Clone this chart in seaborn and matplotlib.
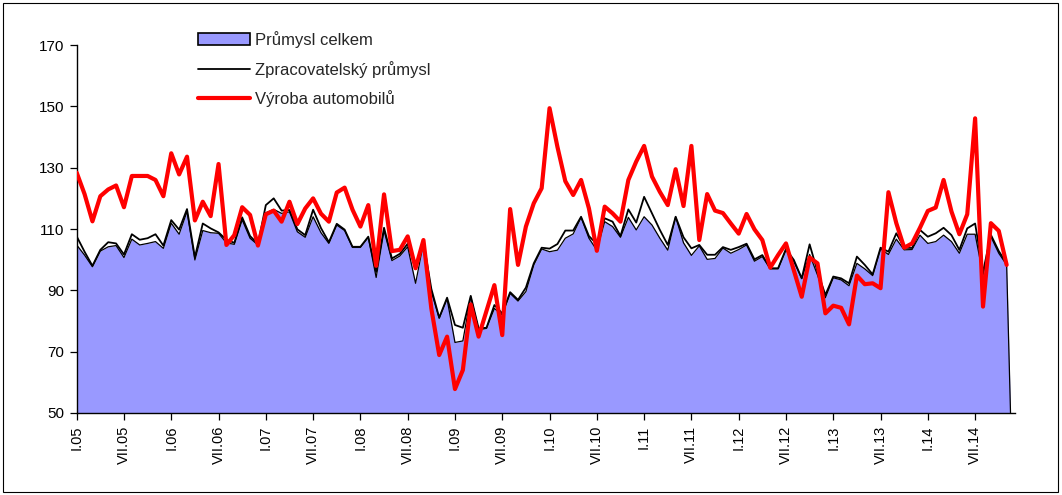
import matplotlib
matplotlib.use('Agg')
import matplotlib.pyplot as plt
import seaborn as sns
import pandas as pd
import numpy as np
from matplotlib.patches import Patch, Rectangle
from matplotlib.lines import Line2D

# monthly index, I.05 .. XII.14 (last month blank -> 0 in the area series)
prumysl_celkem = [
    104.8, 101.5, 97.7, 102.8, 104.2, 104.6, 100.7, 106.7, 104.8, 105.3, 105.9, 103.7,
    111.9, 108.3, 115.7, 99.9, 109.5, 108.8, 108.6, 105.5, 105.0, 113.0, 107.0, 104.8,
    115.3, 116.4, 115.1, 115.6, 109.1, 107.3, 114.0, 108.8, 105.3, 111.3, 109.5, 104.0,
    104.0, 107.3, 94.2, 109.5, 99.7, 101.2, 104.2, 92.3, 105.3, 89.6, 80.9, 87.2,
    73.0, 73.5, 87.9, 77.1, 77.6, 84.1, 82.0, 89.0, 86.5, 89.6, 98.3, 103.5,
    102.6, 103.1, 107.0, 108.4, 113.8, 107.0, 103.1, 112.4, 110.8, 107.3, 113.8, 109.7,
    114.0, 111.3, 107.0, 103.1, 114.0, 105.5, 101.4, 104.5, 100.1, 100.4, 103.8, 102.1,
    103.3, 104.8, 99.5, 101.0, 97.0, 97.0, 103.2, 99.4, 93.9, 101.7, 95.0, 87.6,
    94.1, 93.4, 91.5, 98.8, 97.0, 94.8, 103.5, 101.7, 106.7, 103.2, 103.3, 108.0,
    105.3, 105.9, 108.0, 105.9, 102.1, 108.3, 108.3, 95.0, 107.5, 102.1, 98.3, 0.0,
]

zpracovatelsky = [
    107.6, 102.6, 98.0, 103.2, 105.7, 105.3, 101.7, 108.3, 106.5, 107.0, 108.3, 104.6,
    112.9, 109.8, 116.5, 100.8, 111.8, 110.2, 108.9, 106.5, 105.5, 113.8, 107.7, 105.1,
    117.8, 120.0, 116.0, 116.2, 109.9, 108.0, 116.3, 110.3, 105.7, 111.7, 109.8, 104.2,
    104.2, 107.5, 96.0, 110.4, 100.4, 101.9, 105.2, 97.0, 105.9, 90.5, 81.1, 87.6,
    78.7, 77.8, 88.2, 77.6, 77.8, 85.2, 82.5, 89.4, 86.9, 90.9, 98.8, 103.9,
    103.6, 105.1, 109.5, 109.5, 114.0, 107.7, 105.1, 113.5, 112.4, 107.7, 116.4, 112.1,
    120.5, 115.1, 109.7, 104.8, 114.0, 107.3, 103.7, 104.8, 101.6, 101.6, 104.1, 103.2,
    104.1, 105.2, 100.1, 101.5, 97.2, 97.2, 103.5, 99.9, 93.9, 105.0, 96.1, 88.5,
    94.5, 93.9, 92.3, 101.0, 98.3, 95.2, 103.9, 102.6, 108.6, 103.9, 103.8, 109.7,
    107.5, 108.6, 110.4, 108.0, 103.2, 110.2, 111.8, 96.0, 108.1, 102.8, 98.8,
]

automobily = [
    128.4, 121.4, 112.5, 120.7, 122.9, 124.2, 117.1, 127.3, 127.3, 127.3, 126.0, 120.7,
    134.7, 127.8, 133.6, 112.8, 118.9, 114.2, 131.2, 104.8, 108.0, 117.1, 114.6, 104.6,
    114.8, 116.0, 112.4, 118.9, 111.6, 116.7, 120.0, 115.0, 112.4, 121.9, 123.5, 116.3,
    110.8, 117.8, 98.0, 121.3, 102.8, 103.2, 107.6, 97.2, 106.4, 84.1, 68.9, 74.9,
    57.8, 64.0, 85.4, 74.9, 83.3, 91.7, 75.4, 116.5, 98.3, 110.8, 118.4, 123.3,
    149.4, 136.8, 125.6, 121.1, 126.0, 116.7, 102.9, 117.3, 115.1, 112.4, 126.0, 132.0,
    137.1, 127.1, 122.1, 117.8, 129.5, 117.5, 137.1, 106.4, 121.4, 116.0, 115.2, 111.8,
    108.5, 114.9, 109.9, 106.4, 97.4, 101.5, 105.3, 96.5, 87.9, 100.7, 98.8, 82.5,
    85.0, 84.3, 78.9, 94.8, 92.0, 92.3, 90.7, 122.0, 111.9, 103.9, 105.3, 110.4,
    115.9, 117.0, 126.0, 115.7, 108.3, 114.8, 146.1, 84.7, 111.9, 109.4, 98.3,
]

tick_labels = ['I.05', 'VII.05', 'I.06', 'VII.06', 'I.07', 'VII.07', 'I.08', 'VII.08',
               'I.09', 'VII.09', 'I.10', 'VII.10', 'I.11', 'VII.11', 'I.12', 'VII.12',
               'I.13', 'VII.13', 'I.14', 'VII.14']
y_ticks = [50, 70, 90, 110, 130, 150, 170]
legend_labels = ['Průmysl celkem', 'Zpracovatelský průmysl', 'Výroba automobilů']

sns.set_style('white')
plt.rcParams['font.family'] = ['Liberation Sans', 'DejaVu Sans']

df_area = pd.DataFrame({'mesic': np.arange(len(prumysl_celkem)), 'hodnota': prumysl_celkem})
df_zprac = pd.DataFrame({'mesic': np.arange(len(zpracovatelsky)), 'hodnota': zpracovatelsky})
df_auto = pd.DataFrame({'mesic': np.arange(len(automobily)), 'hodnota': automobily})

fig = plt.figure(figsize=(10.62, 4.95), dpi=100)
ax = fig.add_axes([0.0722, 0.1657, 0.8831, 0.7433])

# area (Průmysl celkem) with black outline
ax.fill_between(df_area['mesic'], df_area['hodnota'], 0, color='#9999FF', lw=0, zorder=1)
sns.lineplot(data=df_area, x='mesic', y='hodnota', color='black', lw=0.9, ax=ax, zorder=2)
sns.lineplot(data=df_zprac, x='mesic', y='hodnota', color='black', lw=1.3, ax=ax, zorder=3)
sns.lineplot(data=df_auto, x='mesic', y='hodnota', color='#FF0000', lw=3.0, ax=ax, zorder=4)

ax.set_xlim(0, len(prumysl_celkem) - 1)
ax.set_ylim(50, 170)
ax.set_yticks(y_ticks)
ax.set_xticks(np.arange(len(tick_labels)) * 6)
ax.set_xticklabels(tick_labels, rotation=90)
ax.set_xlabel('')
ax.set_ylabel('')
ax.tick_params(direction='out', length=5, width=0.9, color='black',
               labelcolor='black', pad=4)
ax.tick_params(axis='x', bottom=True, labelsize=10.5)
ax.tick_params(axis='y', left=True, labelsize=11)
for s in ['top', 'right']:
    ax.spines[s].set_visible(False)
for s in ['left', 'bottom']:
    ax.spines[s].set_color('black')
    ax.spines[s].set_linewidth(1.0)
ax.grid(False)

handles = [Patch(facecolor='#9999FF', edgecolor='black', lw=1.2),
           Line2D([], [], color='black', lw=1.3),
           Line2D([], [], color='#FF0000', lw=3.0)]
fig.legend(handles, legend_labels, loc='upper left', bbox_to_anchor=(0.1864, 0.937),
           frameon=False, fontsize=12, handlelength=3.1, handletextpad=0.3,
           labelspacing=0.75, borderpad=0, borderaxespad=0)

fig.patches.append(Rectangle((0.003, 0.006), 0.993, 0.988, transform=fig.transFigure,
                             fill=False, edgecolor='black', lw=0.8))

plt.savefig('out.png', dpi=100)
